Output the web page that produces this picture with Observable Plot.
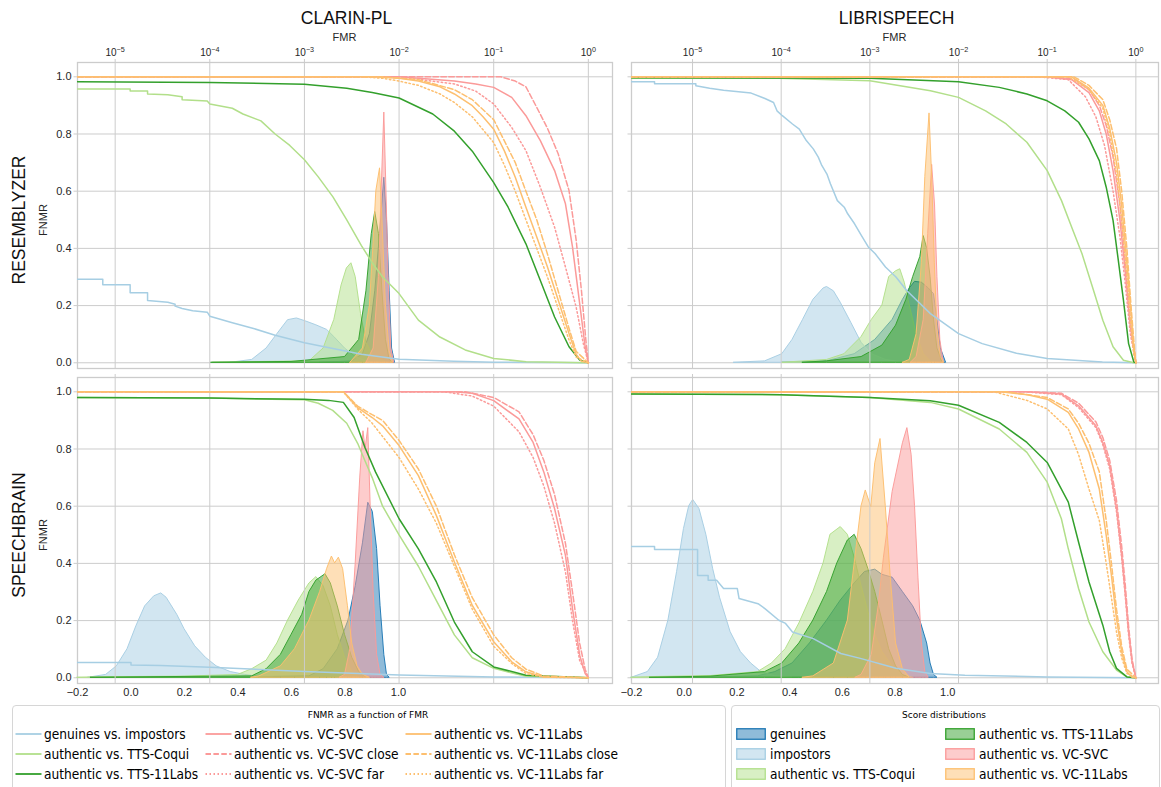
<!DOCTYPE html>
<html><head><meta charset="utf-8">
<script src="https://cdn.jsdelivr.net/npm/d3@7"></script>
<script src="https://cdn.jsdelivr.net/npm/@observablehq/plot@0.6"></script>
<style>
body{margin:0;background:#fff;}
#chart{position:relative;width:1161px;height:787px;overflow:hidden;font-family:"Liberation Sans",Arial,sans-serif;color:#262626;background:#fff;}
.t{position:absolute;white-space:nowrap;transform:translate(-50%,-50%);}
.rot{position:absolute;white-space:nowrap;transform:translate(-50%,-50%) rotate(-90deg);}
.layer{position:absolute;}
.box{position:absolute;border:1px solid #d6d6d6;border-radius:4px;background:#fff;}
.lt{position:absolute;white-space:nowrap;font-family:"DejaVu Sans Condensed","DejaVu Sans",sans-serif;font-stretch:condensed;font-size:13.6px;color:#000;transform:translateY(-50%);}
.sw{position:absolute;transform:translateY(-50%);}
</style></head><body><div id="chart"></div>
<script>
// ---------- labels / ticks ----------
const DATASETS = ["CLARIN-PL", "LIBRISPEECH"];
const MODELS = ["RESEMBLYZER", "SPEECHBRAIN"];
const FMR_TICKS = [1e-5, 1e-4, 1e-3, 1e-2, 1e-1, 1];
const SCORE_TICKS = [-0.2, 0, 0.2, 0.4, 0.6, 0.8, 1.0];
const FNMR_TICKS = [0, 0.2, 0.4, 0.6, 0.8, 1.0];
const FMR_MIN = [4e-6, 2.05e-6];
const FMR_MAX = 1.8;
const SCORE_DOMAIN = [-0.2, 1.8];
const FNMR_DOMAIN = [-0.02, 1.05];
const DET_SERIES = ["genuines vs. impostors", "authentic vs. TTS-Coqui", "authentic vs. TTS-11Labs",
  "authentic vs. VC-SVC", "authentic vs. VC-SVC close", "authentic vs. VC-SVC far",
  "authentic vs. VC-11Labs", "authentic vs. VC-11Labs close", "authentic vs. VC-11Labs far"];
const DIST_SERIES = ["genuines", "impostors", "authentic vs. TTS-Coqui", "authentic vs. TTS-11Labs",
  "authentic vs. VC-SVC", "authentic vs. VC-11Labs"];

// ---------- CLARIN-PL / RESEMBLYZER : DET [FMR, FNMR] ----------
const cr_imp = [[4e-6,0.292],[7.4e-6,0.292],[7.4e-6,0.273],[1.44e-5,0.273],[1.44e-5,0.245],[2.2e-5,0.245],[2.2e-5,0.218],[3.6e-5,0.212],[4.3e-5,0.205],[4.3e-5,0.198],[5.1e-5,0.19],[6.6e-5,0.182],[9.4e-5,0.177],[1e-4,0.163],[1.73e-4,0.14],[2.9e-4,0.12],[4.9e-4,0.096],[1e-3,0.07],[2e-3,0.05],[4e-3,0.03],[1e-2,0.012],[3.8e-2,0.005],[0.1,0.002],[1,0]];
const cr_coqui = [[4e-6,0.957],[1.44e-5,0.957],[1.44e-5,0.95],[2.2e-5,0.95],[2.2e-5,0.94],[3.6e-5,0.937],[5.1e-5,0.93],[5.1e-5,0.92],[9.4e-5,0.915],[1e-4,0.905],[1.73e-4,0.89],[2.24e-4,0.87],[3.47e-4,0.846],[4.9e-4,0.8],[7e-4,0.76],[1e-3,0.71],[1.4e-3,0.65],[2e-3,0.58],[2.8e-3,0.5],[4e-3,0.41],[5.2e-3,0.35],[6.7e-3,0.3],[1e-2,0.242],[1.6e-2,0.149],[2.7e-2,0.09],[5e-2,0.045],[0.1,0.015],[0.22,0.004],[1,0]];
const cr_11 = [[4e-6,0.983],[1e-4,0.98],[1e-3,0.974],[2.8e-3,0.96],[5.2e-3,0.945],[1e-2,0.926],[2.27e-2,0.87],[3.84e-2,0.81],[5.94e-2,0.74],[0.1,0.63],[0.142,0.544],[0.219,0.416],[0.311,0.288],[0.44,0.16],[0.625,0.056],[0.81,0.01],[1,0]];
const cr_svc = [[4e-6,1],[1e-2,1],[3.84e-2,0.985],[6.46e-2,0.975],[0.1,0.963],[0.155,0.928],[0.219,0.864],[0.311,0.777],[0.44,0.672],[0.573,0.556],[0.68,0.405],[0.81,0.207],[0.925,0.056],[1,0]];
const cr_svc_close = [[4e-6,1],[0.119,1],[0.169,0.985],[0.219,0.965],[0.285,0.893],[0.37,0.82],[0.481,0.73],[0.625,0.602],[0.743,0.43],[0.847,0.25],[0.941,0.08],[1,0]];
const cr_svc_far = [[4e-6,1],[1e-2,1],[3.84e-2,0.975],[6.46e-2,0.95],[0.1,0.905],[0.155,0.823],[0.219,0.742],[0.311,0.614],[0.44,0.474],[0.573,0.335],[0.743,0.195],[0.885,0.067],[1,0]];
const cr_vc11 = [[4e-6,1],[5.2e-3,1],[1e-2,0.995],[1.6e-2,0.985],[2.71e-2,0.965],[3.84e-2,0.94],[5.94e-2,0.899],[7.71e-2,0.86],[0.1,0.817],[0.13,0.74],[0.169,0.649],[0.219,0.544],[0.285,0.44],[0.37,0.335],[0.481,0.219],[0.625,0.102],[0.743,0.03],[0.847,0.005],[1,0]];
const cr_vc11_close = [[4e-6,1],[6.7e-3,1],[1.6e-2,0.99],[3.84e-2,0.955],[5.94e-2,0.92],[0.1,0.85],[0.169,0.7],[0.219,0.6],[0.285,0.5],[0.37,0.38],[0.481,0.25],[0.625,0.12],[0.743,0.04],[1,0]];
const cr_vc11_far = [[4e-6,1],[4e-3,1],[6.7e-3,0.995],[1e-2,0.985],[1.6e-2,0.97],[2.71e-2,0.94],[3.84e-2,0.91],[5.94e-2,0.86],[0.1,0.77],[0.13,0.69],[0.169,0.6],[0.219,0.5],[0.285,0.4],[0.37,0.3],[0.481,0.19],[0.625,0.08],[0.743,0.02],[1,0]];
// CLARIN-PL / RESEMBLYZER : score densities [score, density]
const cr_d_gen = [[0.707,0],[0.827,0.005],[0.867,0.03],[0.893,0.1],[0.913,0.25],[0.931,0.45],[0.947,0.647],[0.957,0.5],[0.967,0.25],[0.976,0.05],[0.987,0]];
const cr_d_imp = [[0.373,0],[0.453,0.01],[0.507,0.05],[0.547,0.1],[0.587,0.149],[0.62,0.155],[0.653,0.145],[0.693,0.131],[0.733,0.115],[0.76,0.09],[0.8,0.05],[0.84,0.02],[0.88,0.005],[0.933,0]];
const cr_d_coqui = [[0.307,0],[0.5,0.003],[0.667,0.005],[0.72,0.05],[0.76,0.15],[0.787,0.27],[0.807,0.33],[0.824,0.348],[0.84,0.3],[0.86,0.17],[0.88,0.07],[0.907,0.02],[0.96,0]];
const cr_d_11 = [[0.3,0],[0.6,0.003],[0.8,0.02],[0.853,0.08],[0.88,0.25],[0.9,0.45],[0.913,0.527],[0.927,0.45],[0.94,0.25],[0.953,0.08],[0.967,0.01],[0.98,0]];
const cr_d_svc = [[0.88,0],[0.907,0.05],[0.927,0.3],[0.937,0.6],[0.947,0.875],[0.955,0.6],[0.963,0.3],[0.973,0.05],[0.984,0]];
const cr_d_vc11 = [[0.82,0],[0.867,0.05],[0.893,0.2],[0.907,0.42],[0.917,0.6],[0.931,0.68],[0.94,0.5],[0.953,0.2],[0.967,0.04],[0.98,0]];

// ---------- LIBRISPEECH / RESEMBLYZER ----------
const lr_imp = [[2.05e-6,0.983],[3.73e-6,0.983],[3.73e-6,0.976],[1.09e-5,0.976],[1.09e-5,0.969],[1.56e-5,0.96],[2.24e-5,0.953],[4.58e-5,0.943],[6.56e-5,0.924],[8.2e-5,0.91],[8.97e-5,0.881],[1.03e-4,0.864],[1.34e-4,0.835],[1.6e-4,0.817],[1.92e-4,0.777],[2.3e-4,0.748],[2.62e-4,0.719],[2.87e-4,0.69],[3.28e-4,0.66],[3.59e-4,0.626],[4.3e-4,0.567],[5.14e-4,0.544],[5.62e-4,0.521],[6.72e-4,0.486],[8.04e-4,0.445],[9.6e-4,0.405],[1.15e-3,0.381],[1.5e-3,0.335],[1.97e-3,0.3],[2.6e-3,0.253],[4.82e-3,0.172],[1e-2,0.102],[1.85e-2,0.067],[4.5e-2,0.033],[0.1,0.015],[0.42,0.003],[1,0]];
const lr_coqui = [[2.05e-6,0.995],[9.4e-5,0.995],[1e-3,0.986],[4.82e-3,0.951],[1e-2,0.928],[2.02e-2,0.881],[3.45e-2,0.835],[5.9e-2,0.771],[0.1,0.672],[0.145,0.567],[0.189,0.474],[0.247,0.381],[0.324,0.265],[0.424,0.149],[0.553,0.056],[0.724,0.009],[0.948,0],[1,0]];
const lr_11 = [[2.05e-6,0.997],[1e-3,0.995],[1e-2,0.983],[2.88e-2,0.963],[5.9e-2,0.94],[0.1,0.916],[0.158,0.881],[0.226,0.841],[0.296,0.783],[0.387,0.707],[0.463,0.614],[0.553,0.498],[0.634,0.358],[0.724,0.219],[0.828,0.067],[0.948,0.003],[1,0]];
const lr_svc = [[2.05e-6,1],[0.1,1],[0.189,0.99],[0.296,0.945],[0.387,0.881],[0.463,0.8],[0.553,0.672],[0.662,0.498],[0.757,0.323],[0.867,0.126],[1,0]];
const lr_svc_close = [[2.05e-6,1],[0.1,1],[0.2,0.993],[0.296,0.955],[0.387,0.9],[0.463,0.83],[0.553,0.72],[0.662,0.55],[0.757,0.36],[0.867,0.14],[1,0]];
const lr_svc_far = [[2.05e-6,1],[8e-2,1],[0.173,0.99],[0.27,0.93],[0.354,0.86],[0.443,0.76],[0.553,0.6],[0.662,0.44],[0.757,0.28],[0.867,0.1],[1,0]];
const lr_vc11 = [[2.05e-6,1],[0.189,1],[0.296,0.96],[0.424,0.9],[0.507,0.82],[0.605,0.7],[0.692,0.55],[0.792,0.35],[0.867,0.2],[0.948,0.05],[1,0]];
const lr_vc11_close = [[2.05e-6,1],[0.2,1],[0.296,0.97],[0.424,0.92],[0.507,0.85],[0.605,0.75],[0.692,0.6],[0.792,0.4],[0.881,0.2],[0.964,0.05],[1,0]];
const lr_vc11_far = [[2.05e-6,1],[0.173,1],[0.296,0.955],[0.424,0.89],[0.507,0.8],[0.605,0.66],[0.692,0.5],[0.792,0.3],[0.867,0.15],[0.948,0.03],[1,0]];
const lr_d_gen = [[0.372,0],[0.542,0.005],[0.647,0.03],[0.725,0.08],[0.791,0.15],[0.83,0.22],[0.856,0.26],[0.876,0.283],[0.902,0.28],[0.928,0.26],[0.948,0.24],[0.961,0.15],[0.974,0.05],[0.994,0]];
const lr_d_imp = [[0.189,0],[0.307,0.005],[0.372,0.03],[0.411,0.08],[0.451,0.15],[0.49,0.22],[0.529,0.26],[0.542,0.265],[0.568,0.25],[0.594,0.21],[0.634,0.14],[0.673,0.07],[0.712,0.03],[0.765,0.01],[0.83,0]];
const lr_d_coqui = [[0.372,0],[0.542,0.01],[0.608,0.03],[0.673,0.09],[0.712,0.15],[0.752,0.2],[0.778,0.3],[0.804,0.32],[0.82,0.327],[0.837,0.28],[0.856,0.2],[0.882,0.1],[0.909,0.03],[0.935,0.005],[0.961,0]];
const lr_d_11 = [[0.45,0],[0.542,0.005],[0.673,0.02],[0.752,0.06],[0.804,0.13],[0.843,0.22],[0.869,0.3],[0.896,0.37],[0.909,0.443],[0.922,0.4],[0.935,0.3],[0.948,0.15],[0.961,0.05],[0.981,0]];
const lr_d_svc = [[0.86,0],[0.882,0.02],[0.909,0.15],[0.926,0.45],[0.941,0.692],[0.952,0.55],[0.961,0.3],[0.972,0.08],[0.985,0]];
const lr_d_vc11 = [[0.83,0],[0.856,0.01],[0.882,0.1],[0.902,0.35],[0.915,0.65],[0.931,0.872],[0.941,0.65],[0.951,0.35],[0.961,0.12],[0.974,0.02],[0.987,0]];

// ---------- CLARIN-PL / SPEECHBRAIN ----------
const cs_imp = [[4e-6,0.053],[1.47e-5,0.053],[1.47e-5,0.045],[3e-5,0.043],[1e-4,0.037],[1e-3,0.022],[1e-2,0.01],[0.1,0.003],[1,0]];
const cs_coqui = [[4e-6,0.98],[1e-4,0.978],[1e-3,0.972],[1.4e-3,0.96],[1.99e-3,0.935],[2.8e-3,0.89],[3.65e-3,0.82],[4.35e-3,0.76],[5.2e-3,0.7],[6.7e-3,0.6],[1e-2,0.5],[1.6e-2,0.39],[2.48e-2,0.27],[3.84e-2,0.15],[5.94e-2,0.07],[0.1,0.033],[0.219,0.005],[1,0]];
const cs_11 = [[4e-6,0.98],[1e-4,0.978],[1e-3,0.974],[1.8e-3,0.97],[2.58e-3,0.963],[3.35e-3,0.91],[4.35e-3,0.806],[5.65e-3,0.719],[1e-2,0.556],[1.6e-2,0.451],[2.48e-2,0.335],[3.84e-2,0.195],[5.94e-2,0.091],[0.1,0.038],[0.219,0.009],[1,0]];
const cs_svc = [[4e-6,1],[3.84e-2,1],[5.94e-2,0.995],[0.1,0.969],[0.185,0.905],[0.261,0.823],[0.339,0.719],[0.44,0.591],[0.573,0.428],[0.68,0.242],[0.81,0.079],[0.925,0.015],[1,0]];
const cs_svc_close = [[4e-6,1],[5e-2,1],[0.1,0.98],[0.185,0.93],[0.261,0.85],[0.339,0.76],[0.44,0.64],[0.573,0.47],[0.68,0.3],[0.81,0.12],[0.925,0.03],[1,0]];
const cs_svc_far = [[4e-6,1],[3e-2,1],[5.94e-2,0.985],[0.1,0.95],[0.185,0.86],[0.261,0.77],[0.339,0.67],[0.44,0.54],[0.573,0.37],[0.68,0.2],[0.81,0.06],[1,0]];
const cs_vc11 = [[4e-6,1],[2.58e-3,1],[3.65e-3,0.945],[5.2e-3,0.91],[6.7e-3,0.881],[1e-2,0.812],[1.6e-2,0.707],[2.48e-2,0.567],[3.84e-2,0.405],[5.94e-2,0.253],[0.1,0.126],[0.155,0.056],[0.219,0.021],[0.339,0.003],[1,0]];
const cs_vc11_close = [[4e-6,1],[2.58e-3,1],[3.65e-3,0.95],[5.2e-3,0.92],[6.7e-3,0.9],[1e-2,0.83],[1.6e-2,0.73],[2.48e-2,0.6],[3.84e-2,0.43],[5.94e-2,0.28],[0.1,0.15],[0.155,0.07],[0.219,0.03],[0.339,0.006],[1,0]];
const cs_vc11_far = [[4e-6,1],[2.58e-3,1],[3.65e-3,0.94],[5.2e-3,0.89],[1e-2,0.77],[1.6e-2,0.66],[2.48e-2,0.54],[3.84e-2,0.39],[5.94e-2,0.24],[0.1,0.11],[0.155,0.05],[0.219,0.015],[0.339,0.002],[1,0]];
const cs_d_gen = [[0.327,0],[0.667,0.005],[0.72,0.03],[0.773,0.1],[0.813,0.2],[0.84,0.32],[0.867,0.47],[0.887,0.612],[0.904,0.58],[0.92,0.45],[0.933,0.25],[0.947,0.08],[0.957,0.01],[0.967,0]];
const cs_d_imp = [[-0.16,0],[-0.093,0.01],[-0.053,0.04],[-0.013,0.1],[0.02,0.18],[0.053,0.25],[0.087,0.285],[0.113,0.295],[0.133,0.28],[0.173,0.22],[0.2,0.17],[0.24,0.11],[0.28,0.07],[0.32,0.04],[0.373,0.02],[0.427,0.01],[0.48,0.003],[0.533,0]];
const cs_d_coqui = [[-0.2,0],[-0.1,0.002],[0.2,0.004],[0.4,0.01],[0.453,0.03],[0.507,0.06],[0.547,0.12],[0.587,0.2],[0.627,0.27],[0.667,0.33],[0.693,0.352],[0.72,0.32],[0.747,0.25],[0.773,0.15],[0.8,0.07],[0.827,0.02],[0.853,0]];
const cs_d_11 = [[-0.15,0],[0.2,0.003],[0.453,0.005],[0.507,0.03],[0.56,0.08],[0.6,0.15],[0.64,0.22],[0.667,0.3],[0.693,0.34],[0.727,0.362],[0.747,0.33],[0.773,0.25],[0.8,0.15],[0.827,0.07],[0.853,0.02],[0.88,0]];
const cs_d_svc = [[0.78,0],[0.8,0.01],[0.82,0.1],[0.84,0.4],[0.857,0.7],[0.869,0.862],[0.877,0.8],[0.887,0.873],[0.896,0.6],[0.907,0.3],[0.92,0.08],[0.933,0.01],[0.947,0]];
const cs_d_vc11 = [[0.45,0],[0.48,0.005],[0.56,0.04],[0.613,0.1],[0.667,0.2],[0.707,0.3],[0.733,0.38],[0.751,0.424],[0.763,0.4],[0.777,0.42],[0.793,0.38],[0.811,0.25],[0.827,0.12],[0.847,0.04],[0.867,0.01],[0.893,0]];

// ---------- LIBRISPEECH / SPEECHBRAIN ----------
const ls_imp = [[2.05e-6,0.459],[3.73e-6,0.459],[3.73e-6,0.449],[1.14e-5,0.449],[1.14e-5,0.358],[1.5e-5,0.358],[1.5e-5,0.341],[1.87e-5,0.341],[2.24e-5,0.312],[3.2e-5,0.312],[3.35e-5,0.277],[5.48e-5,0.259],[6.55e-5,0.242],[9.4e-5,0.201],[1.12e-4,0.19],[1.34e-4,0.16],[2.3e-4,0.137],[4.7e-4,0.085],[8e-4,0.067],[1.97e-3,0.033],[4.8e-3,0.015],[1.18e-2,0.009],[0.1,0.003],[1,0]];
const ls_coqui = [[2.05e-6,0.992],[1e-4,0.99],[1e-3,0.98],[4.8e-3,0.963],[1e-2,0.94],[2.88e-2,0.87],[5.9e-2,0.788],[0.1,0.684],[0.1445,0.556],[0.173,0.451],[0.226,0.312],[0.296,0.195],[0.424,0.091],[0.605,0.027],[0.792,0.003],[1,0]];
const ls_11 = [[2.05e-6,0.992],[1e-4,0.99],[1e-3,0.98],[4.8e-3,0.969],[1e-2,0.953],[2.88e-2,0.893],[5.9e-2,0.823],[0.1,0.753],[0.173,0.614],[0.226,0.474],[0.296,0.335],[0.424,0.184],[0.507,0.091],[0.605,0.033],[0.792,0.003],[1,0]];
const ls_svc = [[2.05e-6,1],[5.9e-2,1],[0.1445,0.992],[0.226,0.951],[0.354,0.881],[0.424,0.823],[0.507,0.742],[0.605,0.591],[0.692,0.428],[0.757,0.3],[0.828,0.16],[0.906,0.056],[1,0]];
const ls_svc_close = [[2.05e-6,1],[6.5e-2,1],[0.1445,0.995],[0.226,0.96],[0.354,0.895],[0.424,0.84],[0.507,0.76],[0.605,0.62],[0.692,0.46],[0.757,0.33],[0.828,0.18],[0.906,0.065],[1,0]];
const ls_svc_far = [[2.05e-6,1],[5.5e-2,1],[0.1445,0.99],[0.226,0.945],[0.354,0.875],[0.424,0.815],[0.507,0.73],[0.605,0.58],[0.692,0.42],[0.757,0.29],[0.828,0.15],[0.906,0.05],[1,0]];
const ls_vc11 = [[2.05e-6,1],[3e-2,1],[6e-2,0.99],[0.1,0.974],[0.173,0.928],[0.226,0.87],[0.296,0.788],[0.387,0.66],[0.463,0.498],[0.53,0.358],[0.605,0.207],[0.692,0.091],[0.792,0.021],[0.906,0.002],[1,0]];
const ls_vc11_close = [[2.05e-6,1],[3.5e-2,1],[0.1,0.98],[0.173,0.94],[0.226,0.89],[0.296,0.82],[0.387,0.72],[0.463,0.55],[0.53,0.4],[0.605,0.24],[0.692,0.11],[0.792,0.03],[1,0]];
const ls_vc11_far = [[2.05e-6,1],[2.5e-2,1],[5.9e-2,0.97],[0.1,0.94],[0.173,0.87],[0.226,0.78],[0.296,0.66],[0.387,0.55],[0.463,0.4],[0.53,0.28],[0.605,0.16],[0.692,0.07],[0.792,0.015],[1,0]];
const ls_d_gen = [[0.045,0],[0.28,0.005],[0.346,0.02],[0.411,0.05],[0.477,0.12],[0.542,0.2],[0.594,0.27],[0.647,0.33],[0.686,0.37],[0.725,0.378],[0.752,0.36],[0.791,0.35],[0.83,0.3],[0.869,0.25],[0.896,0.2],[0.922,0.12],[0.935,0.05],[0.948,0.01],[0.961,0]];
const ls_d_imp = [[-0.2,0],[-0.138,0.02],[-0.099,0.07],[-0.06,0.2],[-0.027,0.37],[-0.001,0.52],[0.019,0.6],[0.034,0.622],[0.058,0.59],[0.084,0.5],[0.11,0.38],[0.136,0.28],[0.176,0.16],[0.215,0.09],[0.254,0.05],[0.293,0.02],[0.346,0.005],[0.411,0]];
const ls_d_coqui = [[-0.2,0],[-0.1,0.003],[0.1,0.006],[0.28,0.02],[0.333,0.05],[0.385,0.1],[0.437,0.19],[0.49,0.3],[0.529,0.4],[0.555,0.5],[0.594,0.527],[0.621,0.5],[0.647,0.42],[0.673,0.32],[0.699,0.23],[0.725,0.15],[0.752,0.09],[0.791,0.04],[0.83,0.01],[0.869,0]];
const ls_d_11 = [[-0.13,0],[0.1,0.004],[0.307,0.02],[0.372,0.05],[0.437,0.12],[0.49,0.2],[0.542,0.3],[0.581,0.4],[0.621,0.48],[0.647,0.5],[0.673,0.45],[0.699,0.38],[0.725,0.3],[0.752,0.2],[0.778,0.1],[0.804,0.04],[0.83,0.01],[0.856,0]];
const ls_d_svc = [[0.65,0],[0.673,0.01],[0.712,0.08],[0.738,0.25],[0.758,0.42],[0.791,0.65],[0.83,0.82],[0.847,0.873],[0.863,0.78],[0.876,0.6],[0.889,0.35],[0.902,0.12],[0.915,0.02],[0.928,0]];
const ls_d_vc11 = [[0.45,0],[0.49,0.005],[0.568,0.05],[0.621,0.2],[0.647,0.4],[0.673,0.6],[0.689,0.655],[0.71,0.597],[0.725,0.75],[0.745,0.835],[0.765,0.6],[0.784,0.35],[0.804,0.12],[0.83,0.03],[0.856,0]];

// ---------- styles ----------
const DET_COLORS = ["#a6cee3","#b2df8a","#33a02c","#fb9a99","#fb9a99","#fb9a99","#fdbf6f","#fdbf6f","#fdbf6f"];
const DET_DASH = [null,null,null,null,"5.5,2.4","1.5,2.5",null,"5.5,2.4","1.5,2.5"];
const DIST_FILL = ["#1f78b4","#a6cee3","#b2df8a","#33a02c","#fb9a99","#fdbf6f"];

const PANELS = [
  {row:0, col:0, det:[cr_imp,cr_coqui,cr_11,cr_svc,cr_svc_close,cr_svc_far,cr_vc11,cr_vc11_close,cr_vc11_far], dist:[cr_d_gen,cr_d_imp,cr_d_coqui,cr_d_11,cr_d_svc,cr_d_vc11]},
  {row:0, col:1, det:[lr_imp,lr_coqui,lr_11,lr_svc,lr_svc_close,lr_svc_far,lr_vc11,lr_vc11_close,lr_vc11_far], dist:[lr_d_gen,lr_d_imp,lr_d_coqui,lr_d_11,lr_d_svc,lr_d_vc11]},
  {row:1, col:0, det:[cs_imp,cs_coqui,cs_11,cs_svc,cs_svc_close,cs_svc_far,cs_vc11,cs_vc11_close,cs_vc11_far], dist:[cs_d_gen,cs_d_imp,cs_d_coqui,cs_d_11,cs_d_svc,cs_d_vc11]},
  {row:1, col:1, det:[ls_imp,ls_coqui,ls_11,ls_svc,ls_svc_close,ls_svc_far,ls_vc11,ls_vc11_close,ls_vc11_far], dist:[ls_d_gen,ls_d_imp,ls_d_coqui,ls_d_11,ls_d_svc,ls_d_vc11]}
];

// layout
const FX = [[77,612],[631,1158]];
const FY = [[62,368],[377,683]];
const ML = 45, MR = 8, MT = 42, MB = 26;
const GRID = "#cccccc", INK = "#262626";
const FONT = "'Liberation Sans', Arial, 'DejaVu Sans', sans-serif";
const NS = "http://www.w3.org/2000/svg";
const pow10 = d => "10^" + Math.round(Math.log10(d));
const f1 = d3.format(".1f");

const chart = document.getElementById("chart");
function place(el, x0, y0){ el.classList.add("layer"); el.style.left = (x0-ML)+"px"; el.style.top=(y0-MT)+"px"; chart.appendChild(el); }
function superscripts(svg){
  svg.querySelectorAll("text").forEach(t => {
    const s = t.textContent;
    if (!s.startsWith("10^")) return;
    const e = s.slice(3).replace("-", "\u2212");
    t.textContent = "";
    const a = document.createElementNS(NS, "tspan"); a.textContent = "10";
    const b = document.createElementNS(NS, "tspan"); b.textContent = e;
    b.setAttribute("dy", "-0.55em"); b.setAttribute("font-size", "7.2px");
    t.append(a, b);
  });
}

for (const p of PANELS) {
  const [x0,x1] = FX[p.col], [y0,y1] = FY[p.row];
  const geom = {width:(x1-x0)+ML+MR, height:(y1-y0)+MT+MB, marginLeft:ML, marginRight:MR, marginTop:MT, marginBottom:MB,
    style:{background:"transparent", fontFamily:FONT, color:INK, overflow:"visible"}};
  // density layer (score axis, bottom)
  const dens = Plot.plot({...geom,
    x:{type:"linear", domain:SCORE_DOMAIN, axis:null},
    y:{domain:FNMR_DOMAIN, axis:null},
    marks:[
      Plot.gridY(FNMR_TICKS, {stroke:GRID, strokeOpacity:1, strokeWidth:1}),
      Plot.frame({stroke:GRID, strokeWidth:1.3}),
      Plot.axisY(FNMR_TICKS, {tickSize:3.5, tickPadding:2.5, stroke:GRID, fill:INK, fontSize:11, label:null,
        tickFormat: p.col===0 ? f1 : () => ""}),
      p.row===1 ? Plot.axisX(SCORE_TICKS, {anchor:"bottom", tickSize:0, tickPadding:5, fill:INK, fontSize:11, label:null, tickFormat:f1}) : null,
      ...p.dist.map((d,i) => Plot.areaY(d, {x:v=>v[0], y:v=>v[1], fill:DIST_FILL[i], fillOpacity:0.5,
        stroke:DIST_FILL[i], strokeWidth:1, strokeOpacity:0.95}))
    ]});
  place(dens, x0, y0);
  // DET layer (FMR axis, top, log)
  const det = Plot.plot({...geom,
    x:{type:"log", domain:[FMR_MIN[p.col], FMR_MAX], axis:null},
    y:{domain:FNMR_DOMAIN, axis:null},
    marks:[
      Plot.gridX(FMR_TICKS, {stroke:GRID, strokeOpacity:1, strokeWidth:1}),
      Plot.axisX(FMR_TICKS, {anchor:"top", tickSize:4, tickPadding:3, stroke:GRID, fill:INK, fontSize:10, label:null,
        tickFormat: p.row===0 ? pow10 : () => ""}),
      ...p.det.map((d,i) => Plot.line(d, {x:v=>v[0], y:v=>v[1], stroke:DET_COLORS[i], strokeWidth:1.5,
        strokeDasharray:DET_DASH[i] || undefined, clip:true}))
    ]});
  superscripts(det);
  place(det, x0, y0);
}

// text chrome
function txt(cls, s, x, y, css){ const d=document.createElement("div"); d.className=cls; d.textContent=s; d.style.left=x+"px"; d.style.top=y+"px"; Object.assign(d.style, css||{}); chart.appendChild(d); return d; }
DATASETS.forEach((s,i)=>{ const cx=(FX[i][0]+FX[i][1])/2; txt("t", s, cx+2, 18, {fontSize:"17.5px", color:"#111"}); txt("t","FMR",cx,37,{fontSize:"11px", color:INK}); });
MODELS.forEach((s,i)=>{ const cy=(FY[i][0]+FY[i][1])/2+5; txt("rot", s, 19, cy, {fontSize:"17.5px", color:"#111"}); txt("rot","FNMR",43,cy,{fontSize:"11px", color:INK}); });

// legends
function box(x,y,w,h){ const b=document.createElement("div"); b.className="box"; Object.assign(b.style,{left:x+"px",top:y+"px",width:w+"px",height:h+"px"}); chart.appendChild(b); }
box(12,705,712,95); box(731,705,427,95);
txt("t","FNMR as a function of FMR",368,715,{fontFamily:"'DejaVu Sans',sans-serif",fontSize:"9px",color:"#000"});
txt("t","Score distributions",944,715,{fontFamily:"'DejaVu Sans',sans-serif",fontSize:"9px",color:"#000"});
const ROWS_Y = [734,754,774];
function svgEl(w,h){ const s=document.createElementNS(NS,"svg"); s.setAttribute("width",w); s.setAttribute("height",h); return s; }
DET_SERIES.forEach((name,i)=>{
  const col=Math.floor(i/3), r=i%3; const sx=[15,205,405][col], tx=[44,234,434][col];
  const s=svgEl(27,10); const l=document.createElementNS(NS,"line");
  l.setAttribute("x1",0.5); l.setAttribute("x2",26.5); l.setAttribute("y1",5); l.setAttribute("y2",5);
  l.setAttribute("stroke",DET_COLORS[i]); l.setAttribute("stroke-width",1.8); if(DET_DASH[i]) l.setAttribute("stroke-dasharray",DET_DASH[i]);
  s.appendChild(l); s.classList.add("sw"); s.style.left=sx+"px"; s.style.top=ROWS_Y[r]+"px"; chart.appendChild(s);
  const t=document.createElement("div"); t.className="lt"; t.textContent=name; t.style.left=tx+"px"; t.style.top=ROWS_Y[r]+"px"; chart.appendChild(t);
});
DIST_SERIES.forEach((name,i)=>{
  const col=Math.floor(i/3), r=i%3; const sx=[736,945][col], tx=[770,979][col];
  const s=svgEl(30,12); const rc=document.createElementNS(NS,"rect");
  rc.setAttribute("x",0.75); rc.setAttribute("y",0.75); rc.setAttribute("width",28.5); rc.setAttribute("height",10.5);
  rc.setAttribute("fill",DIST_FILL[i]); rc.setAttribute("fill-opacity",0.5); rc.setAttribute("stroke",DIST_FILL[i]); rc.setAttribute("stroke-width",1.3);
  s.appendChild(rc); s.classList.add("sw"); s.style.left=sx+"px"; s.style.top=ROWS_Y[r]+"px"; chart.appendChild(s);
  const t=document.createElement("div"); t.className="lt"; t.textContent=name; t.style.left=tx+"px"; t.style.top=ROWS_Y[r]+"px"; chart.appendChild(t);
});
</script></body></html>
